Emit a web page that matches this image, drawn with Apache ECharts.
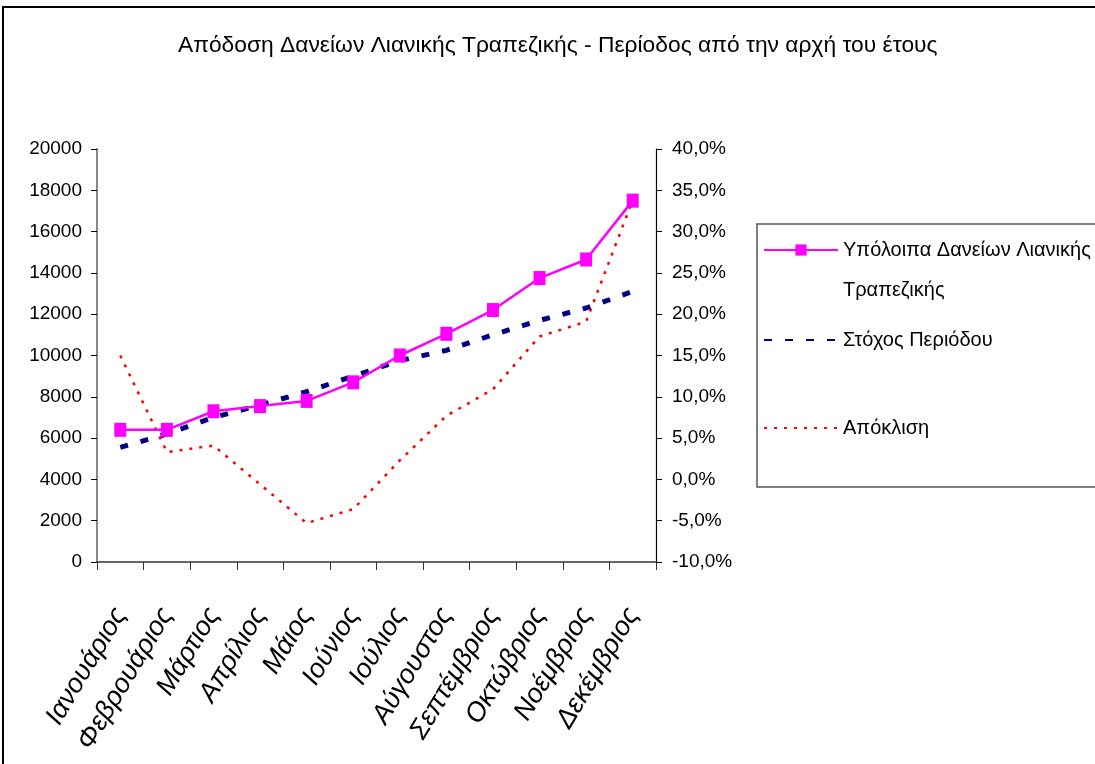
<!DOCTYPE html>
<html>
<head>
<meta charset="utf-8">
<script src="https://cdn.jsdelivr.net/npm/echarts@6/dist/echarts.min.js"></script>
<style>
html,body{margin:0;padding:0;background:#fff;}
#chart{width:1095px;height:764px;}
</style>
</head>
<body>
<div id="chart"></div>
<script>
var months = ['Ιανουάριος','Φεβρουάριος','Μάρτιος','Απρίλιος','Μάιος','Ιούνιος','Ιούλιος','Αύγουστος','Σεπτέμβριος','Οκτώβριος','Νοέμβριος','Δεκέμβριος'];
var balances = [6400, 6400, 7300, 7550, 7800, 8700, 10000, 11050, 12200, 13750, 14650, 17500];
var target = [5550, 6200, 7000, 7600, 8250, 9000, 9750, 10250, 11000, 11700, 12300, 13100];
var deviation = [15.0, 3.3, 4.1, -0.6, -5.3, -3.6, 2.3, 7.7, 10.9, 17.3, 19.1, 33.8];
var leftTicks = {min: 0, max: 20000, step: 2000};
var rightTicks = {min: -10, max: 40, step: 5};

var nameBal = 'Υπόλοιπα Δανείων Λιανικής Τραπεζικής';
var nameTgt = 'Στόχος Περιόδου';
var nameDev = 'Απόκλιση';

var SANS = '"Liberation Sans", Arial, sans-serif';

var chart = echarts.init(document.getElementById('chart'));
var legendText = {fontFamily: SANS, fontSize: 20, color: '#000'};

chart.setOption({
  animation: false,
  backgroundColor: '#fff',
  title: {
    text: 'Απόδοση Δανείων Λιανικής Τραπεζικής - Περίοδος από την αρχή του έτους',
    left: 178, top: 34, padding: 0,
    textStyle: {fontFamily: SANS, fontSize: 22.8, fontWeight: 'normal', color: '#000'}
  },
  graphic: [
    {type: 'rect', shape: {x: 3, y: 7, width: 1200, height: 1000}, style: {fill: 'none', stroke: '#000', lineWidth: 2}, silent: true},
    {type: 'rect', shape: {x: 757, y: 224, width: 400, height: 263}, style: {fill: 'none', stroke: '#555', lineWidth: 1.5}, silent: true}
  ],
  legend: [
    {data: [nameBal], left: 763, top: 250 - 60, padding: 0, itemWidth: 74, itemHeight: 14, itemGap: 5,
     formatter: function () { return ' \nΥπόλοιπα Δανείων Λιανικής\nΤραπεζικής'; },
     textStyle: Object.assign({lineHeight: 40}, legendText)},
    {data: [nameTgt], left: 763, top: 340 - 14, padding: 0, itemWidth: 74, itemHeight: 14, itemGap: 5,
     itemStyle: {opacity: 0},
     textStyle: Object.assign({lineHeight: 28}, legendText)},
    {data: [nameDev], left: 763, top: 428 - 14, padding: 0, itemWidth: 74, itemHeight: 14, itemGap: 5,
     itemStyle: {opacity: 0},
     textStyle: Object.assign({lineHeight: 28}, legendText)}
  ],
  grid: {left: 97, right: 439, top: 149, bottom: 202, containLabel: false},
  xAxis: {
    type: 'category', data: months, boundaryGap: true,
    axisLine: {lineStyle: {color: '#333', width: 1.5}},
    axisTick: {show: true, length: 8, inside: false, lineStyle: {color: '#333'}},
    axisLabel: {rotate: 59, margin: 48, interval: 0, fontFamily: SANS, fontStyle: 'italic', fontSize: 27, color: '#000'}
  },
  yAxis: [
    {type: 'value', min: leftTicks.min, max: leftTicks.max, interval: leftTicks.step, position: 'left',
     axisLine: {show: true, lineStyle: {color: '#888', width: 2}},
     axisTick: {show: true, length: 6, lineStyle: {color: '#000'}},
     splitLine: {show: false},
     axisLabel: {margin: 15, fontFamily: SANS, fontSize: 19, color: '#000',
       formatter: function (v) { return String(v); }}},
    {type: 'value', min: rightTicks.min, max: rightTicks.max, interval: rightTicks.step, position: 'right',
     axisLine: {show: true, lineStyle: {color: '#000', width: 1.2}},
     axisTick: {show: true, length: 6, lineStyle: {color: '#000'}},
     splitLine: {show: false},
     axisLabel: {margin: 16, fontFamily: SANS, fontSize: 19, color: '#000',
       formatter: function (v) { return v.toFixed(1).replace('.', ',') + '%'; }}}
  ],
  series: [
    {name: nameTgt, type: 'line', yAxisIndex: 0, data: target, symbol: 'none', z: 2,
     lineStyle: {color: '#000080', width: 5, type: [8, 13]}, itemStyle: {color: '#000080'}},
    {name: nameDev, type: 'line', yAxisIndex: 1, data: deviation, symbol: 'none', z: 1,
     lineStyle: {color: '#ff0000', width: 2.5, type: [3, 7]}, itemStyle: {color: '#ff0000'}},
    {name: nameBal, type: 'line', yAxisIndex: 0, data: balances, symbol: 'rect', symbolSize: [12, 14], z: 3,
     lineStyle: {color: '#ff00ff', width: 2.5}, itemStyle: {color: '#ff00ff'}}
  ]
});
</script>
</body>
</html>
